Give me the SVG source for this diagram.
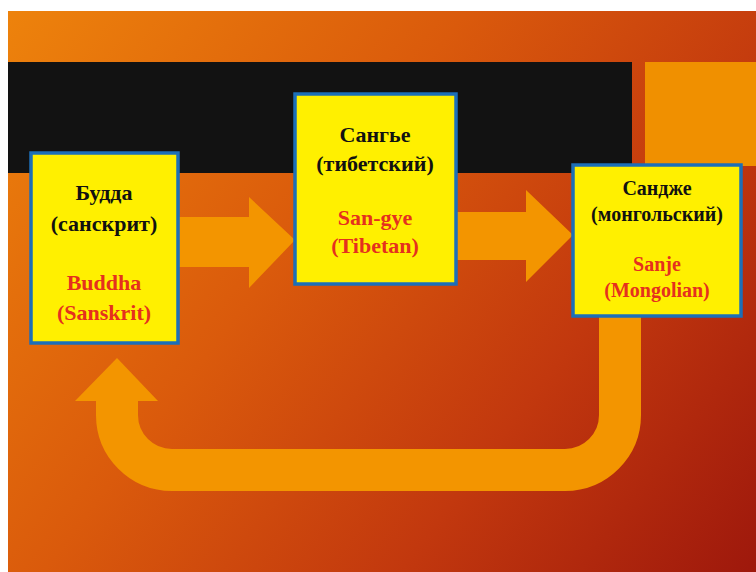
<svg xmlns="http://www.w3.org/2000/svg" width="756" height="572" viewBox="0 0 756 572">
<defs>
<linearGradient id="bg" gradientUnits="userSpaceOnUse" x1="0" y1="0" x2="756" y2="572">
<stop offset="0" stop-color="#EE840C"/>
<stop offset="0.4" stop-color="#DA5A0C"/>
<stop offset="0.7" stop-color="#C2380E"/>
<stop offset="1" stop-color="#9E180C"/>
</linearGradient>
<style>
.box{fill:#FFF000;stroke:#1C6FB8;stroke-width:3.5}
.arr{fill:#F39500}
.flow{fill:none;stroke:#F39500;stroke-width:42}
.ru{font-family:"Liberation Serif","Times New Roman",serif;font-weight:bold;fill:#111;text-anchor:middle}
.en{font-family:"Liberation Serif","Times New Roman",serif;font-weight:bold;fill:#E5301E;text-anchor:middle}
</style>
</defs>
<rect x="0" y="0" width="756" height="572" fill="#FFFFFF"/>
<rect x="8" y="11" width="748" height="561" fill="url(#bg)"/>
<rect x="8" y="62" width="624" height="111" fill="#121212"/>
<rect x="645" y="62" width="111" height="104" fill="#F09000"/>
<g id="connectors">
<polygon class="arr" points="176,217 249,217 249,197 295,240 249,288 249,267 176,267"/>
<polygon class="arr" points="454,212 526,212 526,190 573,235 526,282 526,260 454,260"/>
<path class="flow" d="M620,314 V415 A55,55 0 0 1 565,470 H172 A55,55 0 0 1 117,415 V398"/>
<polygon class="arr" points="75,401 158,401 117,358"/>
</g>
<g id="node-buddha">
<rect class="box" x="31" y="153" width="147" height="190"/>
<text class="ru" x="104" y="200" font-size="22">Будда</text>
<text class="ru" x="104" y="231" font-size="22">(санскрит)</text>
<text class="en" x="104" y="290" font-size="22">Buddha</text>
<text class="en" x="104" y="320" font-size="22">(Sanskrit)</text>
</g>
<g id="node-sangye">
<rect class="box" x="295" y="94" width="161" height="190"/>
<text class="ru" x="375" y="142" font-size="22">Сангье</text>
<text class="ru" x="375" y="171" font-size="22">(тибетский)</text>
<text class="en" x="375" y="225" font-size="22">San-gye</text>
<text class="en" x="375" y="253" font-size="22">(Tibetan)</text>
</g>
<g id="node-sanje">
<rect class="box" x="573" y="165" width="168" height="151"/>
<text class="ru" x="657" y="195" font-size="20">Сандже</text>
<text class="ru" x="657" y="221" font-size="20">(монгольский)</text>
<text class="en" x="657" y="271" font-size="20">Sanje</text>
<text class="en" x="657" y="297" font-size="20">(Mongolian)</text>
</g>
</svg>
